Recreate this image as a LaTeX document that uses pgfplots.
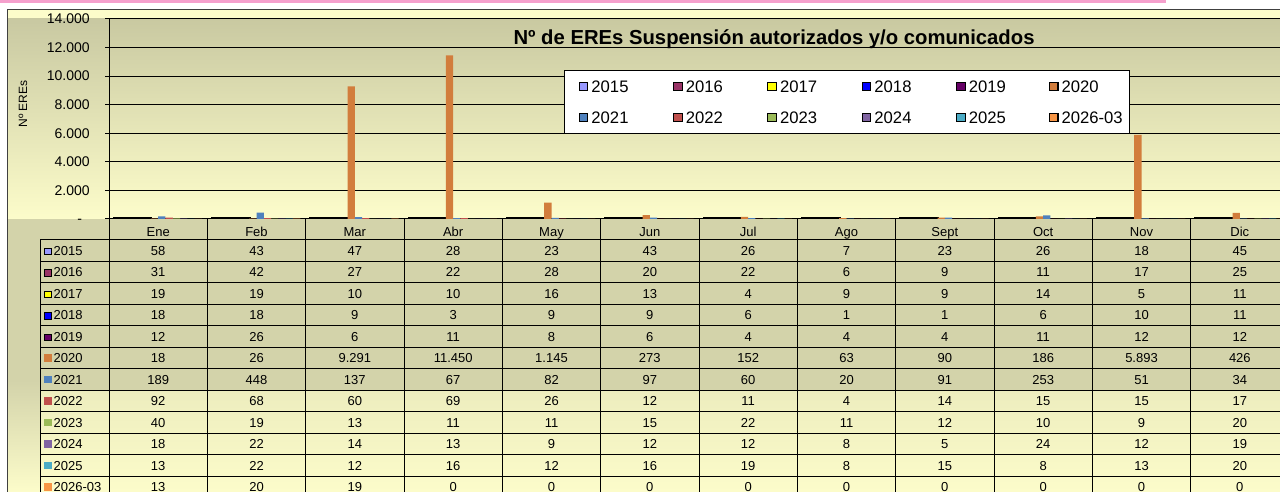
\documentclass[border=0pt]{standalone}
\usepackage{pgfplots}
\pgfplotsset{compat=1.18}
\usepackage{pgfplotstable}
\usepackage{fontspec}
\setmainfont{Liberation Sans}

\definecolor{col0}{RGB}{153,153,255}
\definecolor{col1}{RGB}{153,51,102}
\definecolor{col2}{RGB}{255,255,0}
\definecolor{col3}{RGB}{0,0,255}
\definecolor{col4}{RGB}{102,0,102}
\definecolor{col5}{RGB}{210,125,60}
\definecolor{col6}{RGB}{79,129,189}
\definecolor{col7}{RGB}{192,80,77}
\definecolor{col8}{RGB}{155,187,89}
\definecolor{col9}{RGB}{128,100,162}
\definecolor{col10}{RGB}{75,172,198}
\definecolor{col11}{RGB}{247,150,70}
\definecolor{olive}{RGB}{211,211,170}
\definecolor{pale}{RGB}{252,252,202}
\definecolor{pinkbar}{RGB}{245,160,205}

\newcommand\kb[1]{\raisebox{0.6pt}{\setlength\fboxsep{0pt}\setlength\fboxrule{0.7pt}\fcolorbox{black}{#1}{\rule{0pt}{4.2pt}\rule{4.2pt}{0pt}}}\hspace{1.5pt}}
\newcommand\kc[1]{\raisebox{0.6pt}{\textcolor{#1}{\rule{5.5pt}{5.5pt}}}\hspace{1.5pt}}

% x: category position, month: name, c0..c11: 2015 ... 2025, 2026-03
\pgfplotstableread{
x month c0 c1 c2 c3 c4 c5 c6 c7 c8 c9 c10 c11
0 Ene 58 31 19 18 12 18 189 92 40 18 13 13
1 Feb 43 42 19 18 26 26 448 68 19 22 22 20
2 Mar 47 27 10 9 6 9291 137 60 13 14 12 19
3 Abr 28 22 10 3 11 11450 67 69 11 13 16 0
4 May 23 28 16 9 8 1145 82 26 11 9 12 0
5 Jun 43 20 13 9 6 273 97 12 15 12 16 0
6 Jul 26 22 4 6 4 152 60 11 22 12 19 0
7 Ago 7 6 9 1 4 63 20 4 11 8 8 0
8 Sept 23 9 9 1 4 90 91 14 12 5 15 0
9 Oct 26 11 14 6 11 186 253 15 10 24 8 0
10 Nov 18 17 5 10 12 5893 51 15 9 12 13 0
11 Dic 45 25 11 11 12 426 34 17 20 19 20 0
}\data

\begin{document}
\begin{tikzpicture}
\useasboundingbox (0,0) rectangle (960pt,369pt);
\clip (0,0) rectangle (960pt,369pt);
\fill[white] (0,0) rectangle (960pt,369pt);

% backgrounds, in pixel units (y downwards)
\begin{scope}[x=0.75pt,y=-0.75pt,yshift=369pt]
  \fill[pinkbar] (0,0) rectangle (1166,3);
  \fill[pale] (7,10) rectangle (1290,500);
  \shade[top color=olive!95!black, bottom color=pale] (7,19) rectangle (109,219);
  \fill[olive] (7,219) rectangle (109,240);
  \fill[olive] (7,240) rectangle (40,380);
  \shade[top color=olive, bottom color=pale] (7,380) rectangle (40,492);
  \fill[olive] (109,219) rectangle (1290,240);
  \fill[olive] (40,240) rectangle (1290,390.5);
  \shade[top color={rgb,255:red,237;green,237;blue,190}, bottom color=pale] (40,390.5) rectangle (1290,492);
  \draw[black!75, line width=0.75pt] (7,500) -- (7,10) -- (1290,10);
\end{scope}

% main chart
\begin{axis}[
  at={(81.75pt,204.75pt)}, anchor=south west,
  scale only axis, width=885pt, height=150pt,
  xmin=-0.5, xmax=11.5, ymin=0, ymax=14000,
  scaled y ticks=false,
  ybar=0pt, bar width=0.0742,
  xtick={0,...,11}, xticklabels from table={\data}{month},
  xtick style={draw=none},
  xticklabel style={anchor=base, inner sep=0pt, yshift=-10.5pt, font=\fontsize{9.75}{11}\selectfont},
  ytick={0,2000,...,14000},
  yticklabels={{-\phantom{0}},2.000,4.000,6.000,8.000,10.000,12.000,14.000},
  tick align=outside, major tick length=3pt,
  ytick style={black, line width=0.75pt},
  yticklabel style={anchor=east, inner sep=0pt, xshift=-11.25pt, font=\fontsize{10.5}{12}\selectfont},
  ymajorgrids, grid style={black, line width=0.75pt},
  axis line style={black, line width=0.75pt},
  axis background/.style={top color={rgb,255:red,201;green,201;blue,161}, middle color={rgb,255:red,224;green,224;blue,180}, bottom color={rgb,255:red,253;green,253;blue,203}},
  title={Nº de EREs Suspensión autorizados y/o comunicados},
  every axis title/.style={at={(axis description cs:0.5636,0.87)}, anchor=base, font=\bfseries\fontsize{15.2}{18}\selectfont},
  ylabel={Nº EREs},
  ylabel style={at={(axis description cs:-0.0729,0.575)}, anchor=center, font=\fontsize{9}{11}\selectfont},
  legend columns=6,
  legend cell align=left,
  legend style={at={(0.3856,0.745)}, anchor=north west, draw=black, line width=0.75pt, fill=white,
    inner xsep=3.75pt, inner ysep=7.5pt, font=\fontsize{12.5}{15}\selectfont, row sep=14.25pt,
    nodes={inner sep=0pt, text height=9pt, text depth=0pt, text width=54.3pt, align=left},
    /tikz/every odd column/.append style={column sep=2.25pt},
    /tikz/column 12/.append style={nodes={text width=47.2pt}}},
  legend image code/.code={\path (-6pt,0pt); \draw[#1, line width=0.8pt] (0pt,-3.3pt) rectangle (6.6pt,3.3pt);},
]
\addplot[fill=col0, draw=black, line width=2.4pt] table[x=x,y=c0]{\data};
\addplot[fill=col1, draw=black, line width=2.4pt] table[x=x,y=c1]{\data};
\addplot[fill=col2, draw=black, line width=2.4pt] table[x=x,y=c2]{\data};
\addplot[fill=col3, draw=black, line width=2.4pt] table[x=x,y=c3]{\data};
\addplot[fill=col4, draw=black, line width=2.4pt] table[x=x,y=c4]{\data};
\addplot[fill=col5, draw=none] table[x=x,y=c5]{\data};
\addplot[fill=col6, draw=none] table[x=x,y=c6]{\data};
\addplot[fill=col7, draw=none] table[x=x,y=c7]{\data};
\addplot[fill=col8, draw=none] table[x=x,y=c8]{\data};
\addplot[fill=col9, draw=none] table[x=x,y=c9]{\data};
\addplot[fill=col10, draw=none] table[x=x,y=c10]{\data};
\addplot[fill=col11, draw=none] table[x=x,y=c11]{\data};
\legend{2015,2016,2017,2018,2019,2020,2021,2022,2023,2024,2025,2026-03}
\end{axis}

% data table
\begin{axis}[
  at={(30pt,-4.5pt)}, anchor=south west,
  scale only axis, width=936.75pt, height=193.5pt,
  xmin=-1.20169, xmax=11.5, ymin=0, ymax=12,
  axis line style={draw=none},
  xtick=\empty,
  ytick={0.5,1.5,...,11.5},
  yticklabels={{\kc{col11}2026-03},{\kc{col10}2025},{\kc{col9}2024},{\kc{col8}2023},{\kc{col7}2022},{\kc{col6}2021},{\kc{col5}2020},{\kb{col4}2019},{\kb{col3}2018},{\kb{col2}2017},{\kb{col1}2016},{\kb{col0}2015}},
  major tick length=0pt, ytick style={draw=none},
  yticklabel style={anchor=base west, inner sep=0pt, xshift=3pt, yshift=-3.2pt, font=\fontsize{9.75}{11}\selectfont},
  clip=false,
  nodes near coords,
  point meta=explicit,
  every node near coord/.append style={anchor=base, inner sep=0pt, yshift=-3.2pt, text=black, font=\fontsize{9.75}{11}\selectfont},
  /pgf/number format/.cd, fixed, precision=0, 1000 sep={.}, assume math mode=true,
]
\pgfplotsinvokeforeach{0,...,11}{
  \addplot[draw=none, mark=none, forget plot] table[x=x, y expr=11.5-#1, meta=c#1]{\data};
}
\end{axis}

% table rules, in pixel units
\begin{scope}[x=0.75pt,y=-0.75pt,yshift=369pt, line width=0.75pt]
  \foreach \k in {0,...,12} {\draw (109+98.3333*\k,219) -- (109+98.3333*\k,500);}
  \draw (40,240) -- (40,500);
  \foreach \j in {0,...,11} {\draw (40,240+21.5*\j) -- (1290,240+21.5*\j);}
\end{scope}
\end{tikzpicture}
\end{document}
